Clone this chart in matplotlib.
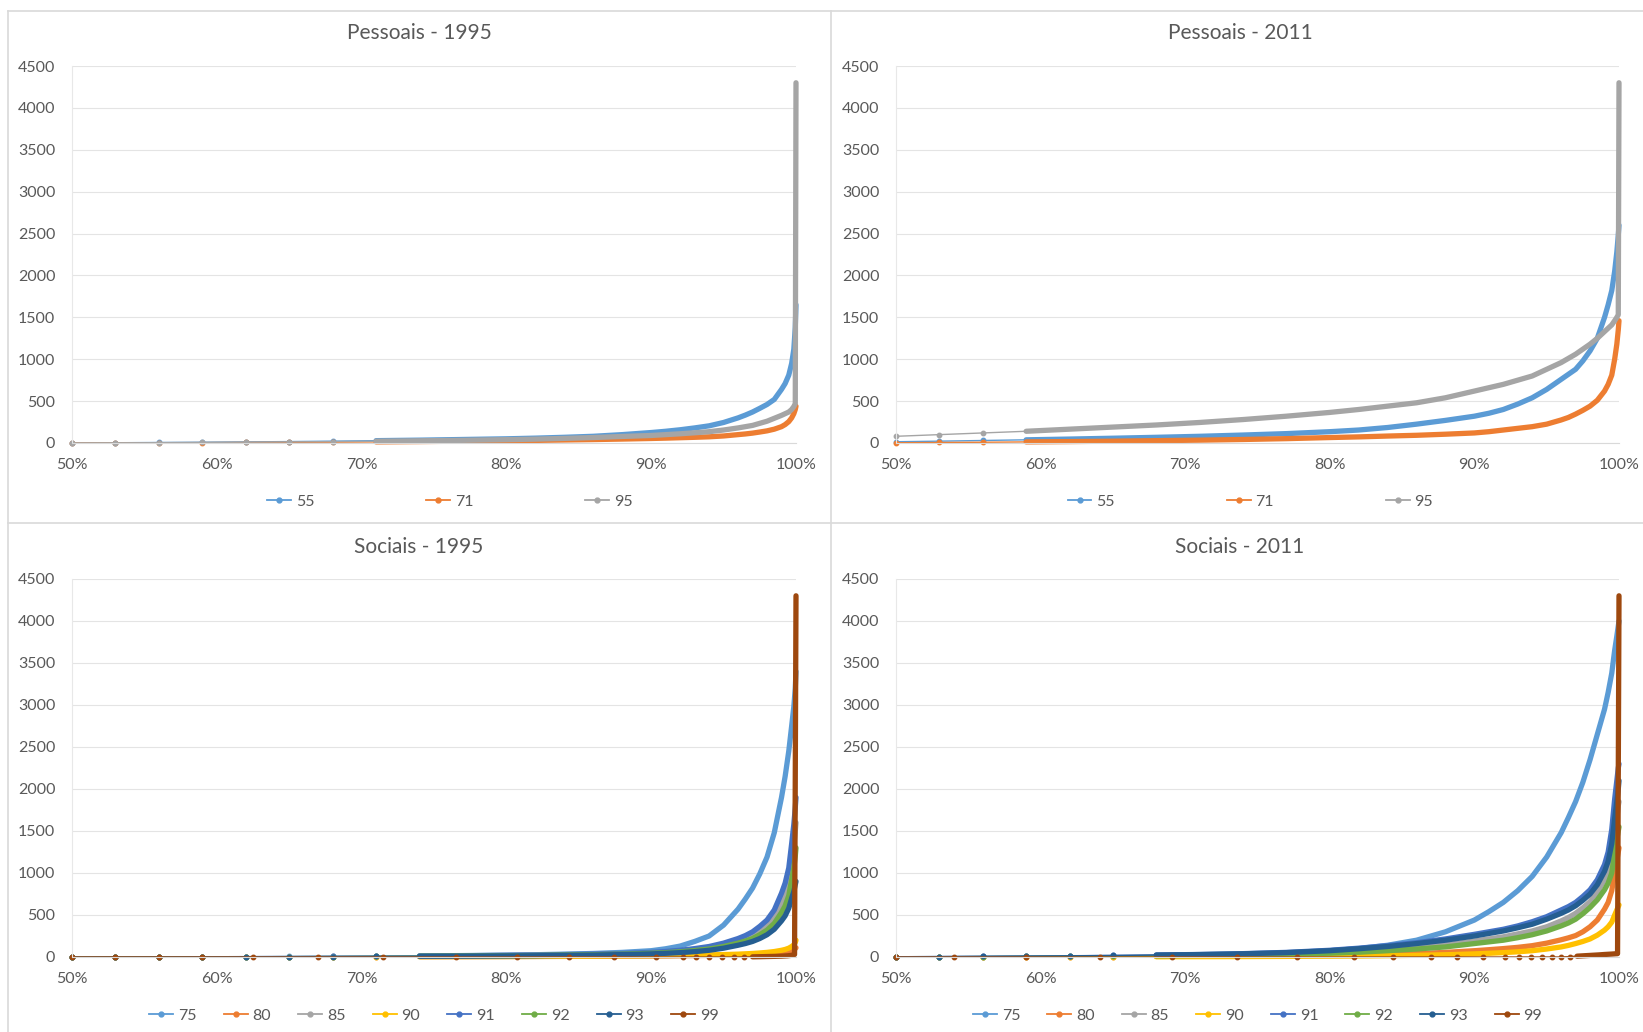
import matplotlib
matplotlib.use("Agg")
import matplotlib.pyplot as plt
from matplotlib.lines import Line2D
import numpy as np

plt.rcParams["font.family"] = ["Lato", "DejaVu Sans"]

# percentile grid shared by the smooth series
X_GRID = [50, 53, 56, 59, 62, 65, 68, 71, 74, 77, 80,
          82, 84, 86, 88, 90,
          91, 92, 93, 94, 95, 96,
          96.5, 97, 97.5, 98, 98.5, 99,
          99.25, 99.5, 99.7, 99.85, 99.95, 100]

# Pessoais - 1995
PES95_55 = [0, 3, 6, 9, 13, 17, 22, 28, 34, 42, 50,
            58, 68, 80, 100, 125,
            140, 158, 180, 205, 245, 300,
            333, 370, 414, 460, 520, 640,
            710, 810, 950, 1120, 1380, 1650]
PES95_71 = [0, 1, 3, 4, 6, 8, 10, 13, 17, 22, 27,
            31, 36, 41, 47, 54,
            58, 63, 68, 74, 84, 100,
            108, 118, 131, 145, 165, 195,
            220, 255, 300, 350, 400, 440]
PES95_95 = [0, 2, 4, 7, 10, 13, 17, 21, 26, 32, 40,
            46, 55, 65, 78, 90,
            100, 110, 122, 135, 155, 180,
            195, 210, 235, 260, 295, 330,
            350, 370, 400, 435, 470, 4300]

# Pessoais - 2011
PES11_55 = [15, 22, 30, 38, 47, 57, 68, 80, 95, 112, 135,
            155, 185, 225, 270, 320,
            355, 400, 465, 540, 640, 760,
            820, 880, 980, 1100, 1250, 1500,
            1650, 1820, 2050, 2280, 2480, 2600]
PES11_71 = [3, 6, 9, 13, 17, 22, 28, 34, 42, 52, 65,
            73, 83, 92, 105, 120,
            135, 155, 175, 195, 225, 275,
            305, 345, 390, 440, 510, 620,
            700, 810, 1000, 1180, 1350, 1460]
PES11_95 = [80, 100, 120, 140, 165, 190, 215, 245, 280, 320, 365,
            400, 440, 480, 540, 620,
            660, 700, 750, 800, 880, 960,
            1010, 1060, 1120, 1180, 1250, 1330,
            1370, 1410, 1460, 1500, 1530, 4300]

# Sociais - 1995
SOC95_75 = [0, 1, 2, 3, 4, 6, 8, 10, 13, 17, 22,
            27, 34, 42, 55, 75,
            98, 130, 185, 250, 380, 570,
            690, 820, 990, 1190, 1480, 1900,
            2150, 2450, 2750, 2980, 3200, 3400]
SOC95_80 = [0, 0, 1, 1, 1, 2, 2, 3, 3, 4, 5,
            6, 7, 8, 10, 12,
            13, 15, 17, 19, 22, 26,
            28, 30, 33, 37, 42, 50,
            55, 63, 75, 85, 100, 110]
SOC95_85 = [0, 1, 2, 3, 4, 5, 7, 9, 11, 14, 18,
            21, 26, 30, 37, 48,
            57, 70, 88, 110, 145, 190,
            222, 260, 315, 380, 480, 650,
            760, 920, 1150, 1330, 1500, 1600]
SOC95_90 = [0, 0, 1, 1, 2, 2, 3, 4, 4, 5, 6,
            7, 9, 10, 12, 15,
            17, 19, 22, 25, 29, 34,
            38, 42, 48, 55, 65, 80,
            90, 105, 125, 145, 175, 200]
SOC95_91 = [0, 1, 2, 3, 4, 5, 7, 9, 12, 15, 20,
            24, 29, 34, 42, 55,
            66, 80, 100, 125, 165, 220,
            255, 300, 365, 440, 560, 760,
            880, 1060, 1350, 1580, 1780, 1900]
SOC95_92 = [0, 1, 1, 2, 3, 4, 5, 7, 9, 12, 15,
            18, 23, 27, 34, 44,
            52, 62, 77, 95, 125, 165,
            190, 220, 265, 320, 400, 530,
            610, 730, 920, 1060, 1200, 1300]
SOC95_93 = [0, 1, 1, 2, 3, 4, 5, 6, 8, 10, 13,
            15, 19, 23, 29, 37,
            44, 52, 64, 80, 105, 140,
            160, 185, 220, 265, 330, 430,
            490, 580, 700, 780, 860, 900]
SOC95_99_X = [50, 53, 56, 59, 62.5, 67, 71.5, 76.5, 80.7, 84.3, 87.4, 90.3, 92.2, 93.1,
              94.0, 94.9, 95.7, 96.4, 97.0, 97.6, 98.1, 98.6, 99.0, 99.4, 99.7, 99.9, 100]
SOC95_99 = [0, 0, 0, 0, 0, 0, 0, 0, 0, 0, 0, 0, 0, 0,
            0, 0, 0, 0, 2, 4, 6, 8, 10, 14, 20, 30, 4300]

# Sociais - 2011
SOC11_75 = [0, 2, 4, 6, 8, 11, 15, 20, 27, 40, 75,
            100, 140, 200, 300, 440,
            540, 650, 790, 960, 1190, 1480,
            1660, 1850, 2080, 2350, 2650, 2950,
            3150, 3380, 3650, 3820, 3940, 4000]
SOC11_80 = [0, 1, 2, 3, 4, 5, 7, 9, 12, 16, 21,
            25, 33, 40, 55, 75,
            87, 100, 115, 135, 165, 205,
            228, 255, 300, 360, 440, 570,
            650, 790, 1000, 1150, 1250, 1300]
SOC11_85 = [2, 4, 6, 8, 11, 14, 18, 23, 30, 40, 55,
            70, 90, 115, 145, 190,
            215, 240, 275, 310, 360, 430,
            470, 520, 585, 660, 770, 920,
            1030, 1190, 1450, 1650, 1800, 1850]
SOC11_90 = [0, 0, 1, 1, 2, 2, 3, 4, 5, 7, 10,
            12, 16, 20, 27, 37,
            44, 52, 62, 75, 95, 120,
            138, 160, 185, 215, 260, 320,
            360, 415, 500, 560, 600, 620]
SOC11_91 = [3, 5, 8, 11, 15, 19, 24, 30, 40, 55, 80,
            105, 135, 170, 215, 270,
            300, 330, 370, 420, 480, 560,
            600, 650, 720, 800, 920, 1100,
            1250, 1520, 1880, 2100, 2250, 2300]
SOC11_92 = [2, 3, 5, 7, 9, 12, 15, 19, 25, 33, 45,
            57, 75, 95, 120, 160,
            180, 200, 230, 265, 310, 370,
            405, 450, 515, 590, 680, 800,
            880, 1000, 1250, 1400, 1500, 1550]
SOC11_93 = [3, 5, 7, 10, 14, 18, 23, 29, 38, 52, 75,
            98, 125, 160, 200, 250,
            280, 310, 348, 390, 450, 520,
            560, 610, 675, 750, 860, 1020,
            1140, 1350, 1650, 1850, 2000, 2100]
SOC11_99_X = [50, 54, 59, 64.1, 69.1, 73.6, 77.7, 81.7, 84.4, 87.0, 88.8, 90.6, 92.1, 93.1,
              93.9, 94.7, 95.4, 96.0, 96.6, 97.1, 97.6, 98.1, 98.6, 99.0, 99.5, 99.9, 100]
SOC11_99 = [0, 0, 0, 0, 0, 0, 0, 0, 0, 0, 0, 0, 0, 0,
            0, 0, 0, 0, 5, 10, 15, 20, 25, 30, 35, 40, 4300]

X_TICKS = [50, 60, 70, 80, 90, 100]
X_TICK_LABELS = ["50%", "60%", "70%", "80%", "90%", "100%"]
Y_TICKS = [0, 500, 1000, 1500, 2000, 2500, 3000, 3500, 4000, 4500]

BLUE, ORANGE, GRAY, YELLOW = "#5B9BD5", "#ED7D31", "#A5A5A5", "#FFC000"
BLUE2, GREEN, DKBLUE, BROWN = "#4472C4", "#70AD47", "#255E91", "#9E480E"
TEXT = "#595959"
BORDER = "#D9D9D9"
GRID = "#E4E4E4"

W, H = 1643, 1032
fig = plt.figure(figsize=(W / 100, H / 100), dpi=100)
fig.patch.set_facecolor("white")


def px_rect(left, top, right, bottom):
    return [left / W, 1 - bottom / H, (right - left) / W, (bottom - top) / H]


def fig_line(x0, y0, x1, y1):
    fig.add_artist(Line2D([x0 / W, x1 / W], [1 - y0 / H, 1 - y1 / H],
                          transform=fig.transFigure, color=BORDER, lw=1.2))


def draw_panel(rect, title, title_xy, series, dense_from, legend_x, colspacing):
    ax = fig.add_axes(px_rect(*rect))
    for label, xs, ys, color in series:
        xs = np.asarray(xs, dtype=float)
        ys = np.asarray(ys, dtype=float)
        start = 97.0 if label == "99" else dense_from
        idx = int(np.argmax(xs >= start))
        # sparse points: markers on a thin line
        ax.plot(xs[:idx + 1], ys[:idx + 1], color=color, lw=1.0, marker="o", ms=3.2,
                markevery=list(range(idx)), clip_on=False)
        # dense points merge into a solid band
        ax.plot(xs[idx:], ys[idx:], color=color, lw=3.8, clip_on=False,
                solid_capstyle="round", solid_joinstyle="round")

    ax.set_xlim(50, 100)
    ax.set_ylim(0, 4500)
    ax.set_xticks(X_TICKS)
    ax.set_xticklabels(X_TICK_LABELS)
    ax.set_yticks(Y_TICKS)
    ax.grid(axis="y", color=GRID, lw=0.8)
    ax.set_axisbelow(True)
    ax.tick_params(axis="both", length=0, labelsize=11.5, colors=TEXT)
    ax.tick_params(axis="y", pad=12)
    ax.tick_params(axis="x", pad=11)
    for side in ("top", "right"):
        ax.spines[side].set_visible(False)
    ax.spines["left"].set_color("#E8E8E8")
    ax.spines["bottom"].set_color(BORDER)

    handles = [Line2D([], [], color=c, lw=1.3, marker="o", ms=3.5) for _, _, _, c in series]
    labels = [lab for lab, _, _, _ in series]
    height = rect[3] - rect[1]
    ax.legend(handles, labels, loc="center", bbox_to_anchor=(legend_x, -58.7 / height),
              ncol=len(labels), frameon=False, fontsize=11.5, handlelength=1.5,
              handletextpad=0.3, columnspacing=colspacing, labelcolor=TEXT)

    fig.text(title_xy[0] / W, 1 - title_xy[1] / H, title, ha="center", va="center",
             fontsize=15, color=TEXT)
    return ax


draw_panel((72, 66, 796, 443), "Pessoais - 1995", (419, 33),
           [("55", X_GRID, PES95_55, BLUE),
            ("71", X_GRID, PES95_71, ORANGE),
            ("95", X_GRID, PES95_95, GRAY)],
           dense_from=70, legend_x=0.522, colspacing=7.0)

draw_panel((896, 66, 1619, 443), "Pessoais - 2011", (1240, 33),
           [("55", X_GRID, PES11_55, BLUE),
            ("71", X_GRID, PES11_71, ORANGE),
            ("95", X_GRID, PES11_95, GRAY)],
           dense_from=59, legend_x=0.49, colspacing=7.0)

draw_panel((72, 579, 796, 957), "Sociais - 1995", (419, 547),
           [("75", X_GRID, SOC95_75, BLUE),
            ("80", X_GRID, SOC95_80, ORANGE),
            ("85", X_GRID, SOC95_85, GRAY),
            ("90", X_GRID, SOC95_90, YELLOW),
            ("91", X_GRID, SOC95_91, BLUE2),
            ("92", X_GRID, SOC95_92, GREEN),
            ("93", X_GRID, SOC95_93, DKBLUE),
            ("99", SOC95_99_X, SOC95_99, BROWN)],
           dense_from=73, legend_x=0.5, colspacing=1.7)

draw_panel((896, 579, 1619, 957), "Sociais - 2011", (1240, 547),
           [("75", X_GRID, SOC11_75, BLUE),
            ("80", X_GRID, SOC11_80, ORANGE),
            ("85", X_GRID, SOC11_85, GRAY),
            ("90", X_GRID, SOC11_90, YELLOW),
            ("91", X_GRID, SOC11_91, BLUE2),
            ("92", X_GRID, SOC11_92, GREEN),
            ("93", X_GRID, SOC11_93, DKBLUE),
            ("99", SOC11_99_X, SOC11_99, BROWN)],
           dense_from=66, legend_x=0.5, colspacing=1.7)

# chart-area borders
fig_line(8, 10.5, W, 10.5)
fig_line(8, 10.5, 8, H)
fig_line(831, 10.5, 831, H)
fig_line(8, 522.5, W, 522.5)

fig.savefig("out.png", dpi=100)
